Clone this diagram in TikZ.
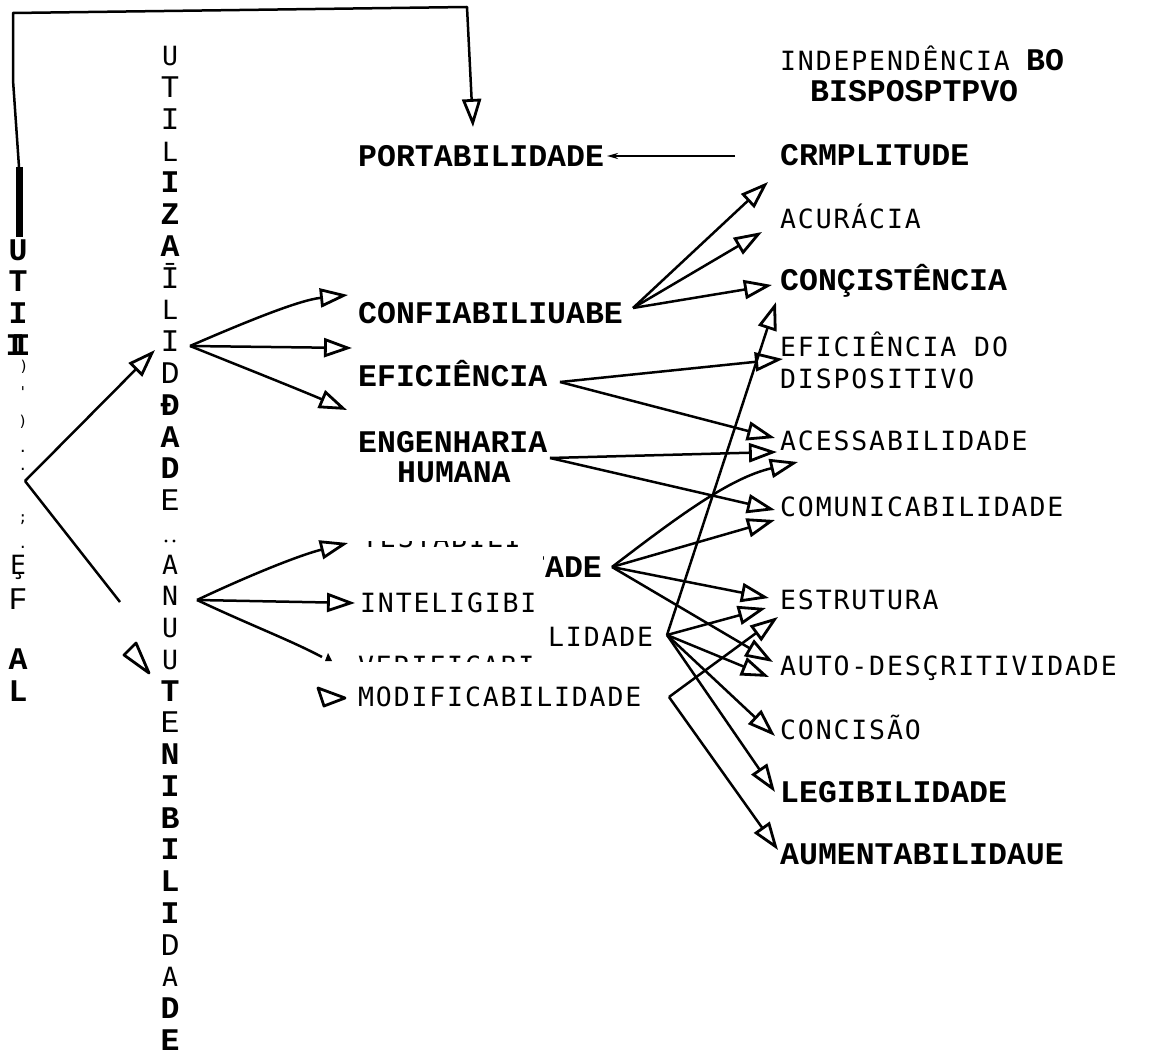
\documentclass[tikz,border=0pt]{standalone}
\usepackage{fontspec}
\usetikzlibrary{arrows.meta}
\newfontfamily\twfont{Liberation Mono}
\newfontfamily\dmfont{DejaVu Sans Mono}[LetterSpace=7]
\newfontfamily\dmvfont{DejaVu Sans Mono}
\newcommand\TWB{\twfont\bfseries\fontsize{31.5}{32}\selectfont}
\newcommand\TWL{\twfont\fontsize{31.5}{32}\selectfont}
\newcommand\DMT{\dmfont\fontsize{26.5}{27}\selectfont}
\newcommand\DMV{\dmvfont\fontsize{26.5}{27}\selectfont}
\newcommand\DMS{\dmvfont\fontsize{15}{16}\selectfont}
\tikzset{
  tw/.style={font=\TWB, inner sep=0pt, anchor=base west},
  dm/.style={font=\DMT, inner sep=0pt, anchor=base west},
  vb/.style={font=\TWB, inner sep=0pt, anchor=base},
  vl/.style={font=\TWL, inner sep=0pt, anchor=base},
  vd/.style={font=\DMV, inner sep=0pt, anchor=base},
  faint/.style={font=\DMS, inner sep=0pt, anchor=base},
  plain/.style={line width=2.5pt, line join=round},
  conn/.style={line width=2.5pt, line join=round, -{Triangle[open,length=28pt,width=19pt,line width=2.8pt]}},
  head/.style={line width=2.8pt, line join=round},
  smallarr/.style={line width=2.5pt, -{Stealth[length=11pt,width=6pt]}},
}
\begin{document}
\begin{tikzpicture}[x=1pt,y=-1pt]
\useasboundingbox (0,0) rectangle (1152,1059);
\fill[white] (0,0) rectangle (1152,1059);

% ---------- right-hand texts ----------
\node[dm] (indep) at (780,71) {INDEPENDÊNCIA};
\node[tw] (bo) at (1026,71) {BO};
\node[tw] (bisp) at (810,102) {BISPOSPTPVO};
\node[tw] (crmp) at (780,166) {CRMPLITUDE};
\node[dm] (acur) at (780,229) {ACURÁCIA};
\node[tw] (consi) at (780,291) {CONÇISTÊNCIA};
\node[dm] (efdo) at (780,357) {EFICIÊNCIA DO};
\node[dm] (disp) at (780,389) {DISPOSITIVO};
\node[dm] (aces) at (780,450) {ACESSABILIDADE};
\node[dm] (comu) at (780,516) {COMUNICABILIDADE};
\node[dm] (estr) at (780,609) {ESTRUTURA};
\node[dm] (auto) at (780,675) {AUTO-DESÇRITIVIDADE};
\node[dm] (conc) at (780,739) {CONCISÃO};
\node[tw] (legi) at (780,802) {LEGIBILIDADE};
\node[tw] (aume) at (780,864) {AUMENTABILIDAUE};

% ---------- middle texts ----------
\node[tw] (port) at (358,167) {PORTABILIDADE};
\node[tw] (conf) at (358,324) {CONFIABILIUABE};
\node[tw] (efic) at (358,387) {EFICIÊNCIA};
\node[tw] (eng) at (358,452) {ENGENHARIA};
\node[tw] (hum) at (397,482) {HUMANA};
\node[dm] (modi) at (358,706) {MODIFICABILIDADE};
\node[dm] (lida) at (548,646) {LIDADE};
\begin{scope}
  \clip (543,550) rectangle (620,590);
  \node[tw] (tade) at (526,577) {TADE};
\end{scope}
\begin{scope}
  \clip (355,590) rectangle (545,620);
  \node[dm] (inte) at (360,612) {INTELIGIBI};
\end{scope}
\begin{scope}
  \clip (355,541) rectangle (546,548);
  \node[dm] (test) at (362,547) {TESTABILI};
\end{scope}
\begin{scope}
  \clip (355,655) rectangle (546,661);
  \node[dm] (veri) at (358,675) {VERIFICABI};
\end{scope}

% ---------- vertical column (middle) ----------
\foreach \s/\c [count=\k] in {vd/U,vl/T,vl/I,vd/L,vb/I,vb/Z,vb/A,vl/Ī,vd/L,vl/I,vl/D,vb/Ð,vb/A,vb/D,vl/E,vl/{},vd/A,vd/N,vd/U,vd/U,vb/T,vl/E,vb/N,vb/I,vb/B,vb/I,vb/L,vb/I,vl/D,vd/A,vb/D,vb/E}
  \node[\s] (m\k) at (170,{66+31.75*(\k-1)}) {\c};
\fill (166,541) circle (1.6pt) (174,541) circle (1.6pt);

% ---------- vertical column (left) ----------
\node[vb] (lu) at (18,261) {U};
\node[vb] (lt) at (18,292) {T};
\node[vb] (li) at (18,324) {I};
\node[vb] (lia) at (15,356) {I};
\node[vb] (lib) at (21,356) {I};
\node[faint] (f1) at (24,372) {)};
\node[faint] (f2) at (23,398) {'};
\node[faint] (f3) at (23,426) {)};
\node[faint] (f4) at (23,452) {.};
\node[faint] (f5) at (23,470) {.};
\node[faint] (f6) at (23,522) {;};
\node[faint] (f7) at (23,548) {.};
\node[vd] (le) at (18,574) {Ȩ};
\node[vl] (lf) at (18,609) {F};
\node[vb] (la) at (18,669) {A};
\node[vb] (ll) at (18,701) {L};

% ---------- coordinates ----------
\coordinate (bar0) at (19,167);
\coordinate (bar1) at (19,237);
\coordinate (lp1) at (13,80);
\coordinate (lp2) at (13,13);
\coordinate (lp3) at (467,7);
\coordinate (tPort) at (473,127);

\coordinate (J) at (25,481);
\coordinate (tUti) at (155,350);
\coordinate (jd) at (120,602);
\coordinate (F1) at (190,346);
\coordinate (F2) at (197,600);
\coordinate (C0) at (633,308);
\coordinate (E0) at (560,382);
\coordinate (G0) at (550,458);
\coordinate (A0) at (612,567);
\coordinate (L0) at (667,635);
\coordinate (M0) at (669,697);

\coordinate (tConf) at (348,295);
\coordinate (tEfic) at (352,348);
\coordinate (tEng) at (347,410);
\coordinate (tTest) at (348,543);
\coordinate (tInte) at (355,603);
\coordinate (vEnd) at (322,657);

\coordinate (c1) at (768,182);
\coordinate (c2) at (762,232);
\coordinate (c3) at (772,285);
\coordinate (e1) at (783,359);
\coordinate (e2) at (775,438);
\coordinate (g1) at (777,452);
\coordinate (g2) at (775,510);
\coordinate (a1) at (798,462);
\coordinate (a2) at (775,520);
\coordinate (a3) at (769,598);
\coordinate (a4) at (773,662);
\coordinate (l1) at (776,302);
\coordinate (l2) at (766,608);
\coordinate (l3) at (769,677);
\coordinate (l4) at (775,736);
\coordinate (l5) at (775,792);
\coordinate (o1) at (778,617);
\coordinate (o2) at (778,850);
\coordinate (cr0) at (735,156);
\coordinate (cr1) at (607,156);

% ---------- connectors ----------
\draw[line width=7pt] (bar0) -- (bar1);
\draw[conn] (bar0) -- (lp1) -- (lp2) -- (lp3) -- (tPort);
\draw[smallarr] (cr0) -- (cr1);

\draw[conn] (J) -- (tUti);
\draw[plain] (J) -- (jd);
\draw[head] (124,655) -- (149,673) -- (136,643) -- cycle;

\draw[conn] (F1) .. controls (250,320) and (300,300) .. (tConf);
\draw[conn] (F1) -- (tEfic);
\draw[conn] (F1) .. controls (250,370) and (300,390) .. (tEng);
\draw[conn] (F2) .. controls (250,575) and (300,555) .. (tTest);
\draw[conn] (F2) -- (tInte);
\draw[plain] (F2) .. controls (250,625) and (290,640) .. (vEnd);
\fill (325,661) -- (328,653) -- (332,661) -- cycle;
\draw[head] (318,688) -- (345,698) -- (324,706) -- cycle;

\draw[conn] (C0) -- (c1);
\draw[conn] (C0) -- (c2);
\draw[conn] (C0) -- (c3);
\draw[conn] (E0) -- (e1);
\draw[conn] (E0) -- (e2);
\draw[conn] (G0) -- (g1);
\draw[conn] (G0) -- (g2);
\draw[conn] (A0) .. controls (680,515) and (730,478) .. (a1);
\draw[conn] (A0) -- (a2);
\draw[conn] (A0) -- (a3);
\draw[conn] (A0) -- (a4);
\draw[conn] (L0) -- (l1);
\draw[conn] (L0) -- (l2);
\draw[conn] (L0) -- (l3);
\draw[conn] (L0) -- (l4);
\draw[conn] (L0) -- (l5);
\draw[conn] (M0) -- (o1);
\draw[conn] (M0) -- (o2);
\end{tikzpicture}
\end{document}
